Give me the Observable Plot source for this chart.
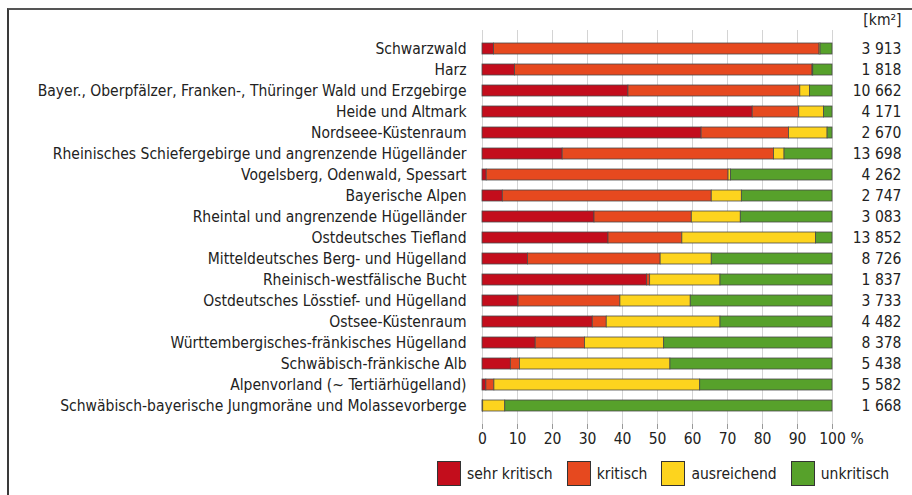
<!DOCTYPE html>
<html>
<head>
<meta charset="utf-8">
<script src="https://cdn.jsdelivr.net/npm/d3@7"></script>
<script src="https://cdn.jsdelivr.net/npm/@observablehq/plot@0.6"></script>
<style>
  html, body { margin: 0; padding: 0; background: #fff; }
  body { width: 912px; height: 495px; position: relative; overflow: hidden;
         font-family: "Liberation Sans Narrow", "DejaVu Sans Condensed", "Roboto Condensed", sans-serif; color: #222; }
  #frame { position: absolute; left: 7px; top: 8px; right: -5px; bottom: -5px;
           border-left: 2px solid #3a3a3a; border-top: 2px solid #555; }
  #chart { position: absolute; left: 0; top: 0; }
  #legend { position: absolute; left: 437px; top: 461px; display: flex; align-items: center;
            font-size: 15.5px; white-space: nowrap; }
  .item { display: flex; align-items: center; margin-right: 14px; flex-shrink: 0; }
  .sw { width: 24px; height: 25px; border: 1px solid #333; box-sizing: border-box; margin-right: 6px; flex-shrink: 0; }
</style>
</head>
<body>
<div id="frame"></div>
<div id="chart"></div>
<div id="legend"></div>
<script>
const regions = [
  "Schwarzwald",
  "Harz",
  "Bayer., Oberpfälzer, Franken-, Thüringer Wald und Erzgebirge",
  "Heide und Altmark",
  "Nordseee-Küstenraum",
  "Rheinisches Schiefergebirge und angrenzende Hügelländer",
  "Vogelsberg, Odenwald, Spessart",
  "Bayerische Alpen",
  "Rheintal und angrenzende Hügelländer",
  "Ostdeutsches Tiefland",
  "Mitteldeutsches Berg- und Hügelland",
  "Rheinisch-westfälische Bucht",
  "Ostdeutsches Lösstief- und Hügelland",
  "Ostsee-Küstenraum",
  "Württembergisches-fränkisches Hügelland",
  "Schwäbisch-fränkische Alb",
  "Alpenvorland (~ Tertiärhügelland)",
  "Schwäbisch-bayerische Jungmoräne und Molassevorberge"
];
const sehrKritisch = [3.3, 9.3, 41.7, 77.2, 62.6, 22.9, 1.2, 5.8, 32.0, 36.0, 13.0, 47.0, 10.3, 31.5, 15.2, 8.1, 1.1, 0.1];
const kritisch     = [93.0, 85.0, 49.1, 13.3, 25.0, 60.4, 69.1, 59.7, 27.8, 21.1, 37.9, 0.9, 29.1, 4.0, 14.1, 2.6, 2.3, 0.1];
const ausreichend  = [0.3, 0.2, 2.8, 7.1, 11.0, 3.0, 0.7, 8.6, 14.0, 38.2, 14.6, 20.1, 20.1, 32.5, 22.6, 43.0, 58.8, 6.3];
const unkritisch   = [3.4, 5.5, 6.4, 2.4, 1.4, 13.7, 29.0, 25.9, 26.2, 4.7, 34.5, 32.0, 40.5, 32.0, 48.1, 46.3, 37.8, 93.5];
const areas = [3913, 1818, 10662, 4171, 2670, 13698, 4262, 2747, 3083, 13852, 8726, 1837, 3733, 4482, 8378, 5438, 5582, 1668];
const categories = ["sehr kritisch", "kritisch", "ausreichend", "unkritisch"];
const colors = ["#c30d1c", "#e6491f", "#fdd41e", "#57a12b"];
const xTicks = [0, 10, 20, 30, 40, 50, 60, 70, 80, 90, 100];

const series = [sehrKritisch, kritisch, ausreichend, unkritisch];
const long = [];
regions.forEach((r, i) => categories.forEach((c, j) => long.push({region: r, cat: c, value: series[j][i]})));
const areaRows = regions.map((r, i) => ({region: r, area: areas[i]}));
const fmt = n => d3.format(",")(n).replace(/,/g, " ");

const FONT = '"Liberation Sans Narrow", "DejaVu Sans Condensed", "Roboto Condensed", sans-serif';

const chart = Plot.plot({
  width: 912,
  height: 450,
  marginLeft: 482,
  marginRight: 80,
  marginTop: 30,
  marginBottom: 26,
  style: {fontFamily: FONT, fontSize: "15.5px", color: "#222", background: "transparent"},
  x: {domain: [0, 100]},
  y: {domain: regions, padding: 0.5},
  color: {domain: categories, range: colors},
  marks: [
    Plot.gridX(xTicks, {stroke: "#d4d4d4", strokeOpacity: 1, strokeWidth: 1}),
    Plot.barX(long, Plot.stackX({order: categories}, {
      x: "value", y: "region", fill: "cat", stroke: "#4a4a4a", strokeWidth: 0.8
    })),
    Plot.axisY({tickSize: 0, tickPadding: 16, fontSize: 15.5, label: null}),
    Plot.axisX(xTicks, {tickSize: 5, tickPadding: 3, fontSize: 15.5, label: null, stroke: "#999"}),
    Plot.text(["%"], {x: () => 100, frameAnchor: "bottom", lineAnchor: "top", dy: 8, dx: 18, textAnchor: "start", fontSize: 15.5}),
    Plot.text(areaRows, {y: "region", text: d => fmt(d.area), frameAnchor: "right", dx: 69, textAnchor: "end", fontSize: 15.5}),
    Plot.text(["[km²]"], {frameAnchor: "top-right", dx: 69, dy: -10, lineAnchor: "middle", textAnchor: "end", fontSize: 15.5})
  ]
});
document.getElementById("chart").appendChild(chart);

const legend = document.getElementById("legend");
categories.forEach((c, i) => {
  const item = document.createElement("div");
  item.className = "item";
  const sw = document.createElement("div");
  sw.className = "sw";
  sw.style.background = colors[i];
  const t = document.createElement("span");
  t.textContent = c;
  item.appendChild(sw);
  item.appendChild(t);
  legend.appendChild(item);
});
</script>
</body>
</html>
